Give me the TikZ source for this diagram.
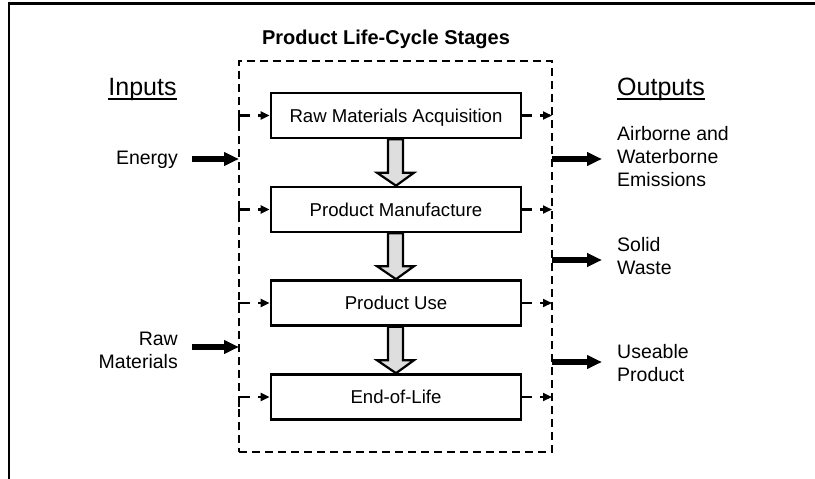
\documentclass[tikz,border=0pt]{standalone}
\usepackage{fontspec}
\setmainfont{Liberation Sans}
\usetikzlibrary{arrows.meta}
\begin{document}
\begin{tikzpicture}[x=1pt,y=-1pt,
  stagebox/.style={draw, line width=2.6pt, fill=white, minimum width=250pt, minimum height=45pt,
    inner sep=0pt, font=\fontsize{18.6}{22}\selectfont, text height=13.3pt, text depth=0pt},
  sidetext/.style={inner sep=0pt, font=\fontsize{19.5}{23}\selectfont},
  headtext/.style={inner sep=0pt, font=\fontsize{25}{30}\selectfont},
  framebox/.style={draw, line width=2.6pt, dash pattern=on 8pt off 5pt, minimum width=313pt,
    minimum height=391pt, outer sep=0pt, inner sep=0pt},
  smallin/.style={line width=2.2pt, dash pattern=on 21pt off 8pt, -{Triangle[length=9pt,width=8pt]}},
  smallout/.style={line width=2.2pt, dash pattern=on 10pt off 8pt, -{Triangle[length=9pt,width=8pt]}},
  bigarrow/.style={line width=6pt, -{Triangle[length=15pt,width=13pt]}},
  blockarrow/.style={draw, line width=2.2pt, fill=black!13, line join=miter},
  ulinestyle/.style={line width=2pt}
]
\useasboundingbox (0,0) rectangle (815,479);
% outer frame (partially clipped)
\draw[line width=2.6pt] (9,479) -- (9,3.5) -- (815,3.5);

% title
\node[inner sep=0pt, font=\fontsize{20}{24}\selectfont\bfseries, anchor=base] (title) at (386,45) {Product Life-Cycle Stages};

% dashed frame of stages
\node[framebox] (frame) at (395.5,256.5) {};

% stages
\node[stagebox] (s1) at (396,115.5) {Raw Materials Acquisition};
\node[stagebox] (s2) at (396,209.5) {Product Manufacture};
\node[stagebox] (s3) at (396,303) {Product Use};
\node[stagebox] (s4) at (396,397) {End-of-Life};

% block arrows between stages
\foreach \a/\b in {s1/s2, s2/s3, s3/s4}{
  \draw[blockarrow] ([xshift=-8pt]\a.south) -- ([xshift=-8pt,yshift=13pt]\b.north)
    -- ([xshift=-19pt,yshift=13pt]\b.north) -- (\b.north) -- ([xshift=18pt,yshift=13pt]\b.north)
    -- ([xshift=7pt,yshift=13pt]\b.north) -- ([xshift=7pt]\a.south) -- cycle;
}

% small dashed connectors
\foreach \s in {s1,s2,s3,s4}{
  \draw[smallin] ([yshift=-10pt]frame.west |- \s.west) -- (frame.west |- \s.west) -- (\s.west);
  \draw[smallout] (\s.east) -- (frame.east |- \s.east);
}

% headings
\node[headtext, anchor=base] (inputs) at (142.5,95) {Inputs};
\draw[ulinestyle] ([yshift=-3.5pt]inputs.base west) -- ([yshift=-3.5pt]inputs.base east);
\node[headtext, anchor=base west] (outputs) at (617,95) {Outputs};
\draw[ulinestyle] ([yshift=-3.5pt]outputs.base west) -- ([yshift=-3.5pt]outputs.base east);

% inputs
\node[sidetext, anchor=base east] (energy) at (178,164.5) {Energy};
\node[sidetext, anchor=base east] (rawmat) at (178,345) {\begin{tabular}[t]{@{}r@{}}Raw\\Materials\end{tabular}};
\coordinate (ein) at (192,159);
\coordinate (rin) at (192,347);
\draw[bigarrow] (ein) -- (frame.west |- ein);
\draw[bigarrow] (rin) -- (frame.west |- rin);

% outputs
\node[sidetext, anchor=base west] (emis) at (617,140) {\begin{tabular}[t]{@{}l@{}}Airborne and\\Waterborne\\Emissions\end{tabular}};
\node[sidetext, anchor=base west] (waste) at (617,251) {\begin{tabular}[t]{@{}l@{}}Solid\\Waste\end{tabular}};
\node[sidetext, anchor=base west] (useable) at (617,358) {\begin{tabular}[t]{@{}l@{}}Useable\\Product\end{tabular}};
\coordinate (eout) at (602,159);
\coordinate (wout) at (602,260);
\coordinate (uout) at (602,362);
\draw[bigarrow] (frame.east |- eout) -- (eout);
\draw[bigarrow] (frame.east |- wout) -- (wout);
\draw[bigarrow] (frame.east |- uout) -- (uout);
\end{tikzpicture}
\end{document}
